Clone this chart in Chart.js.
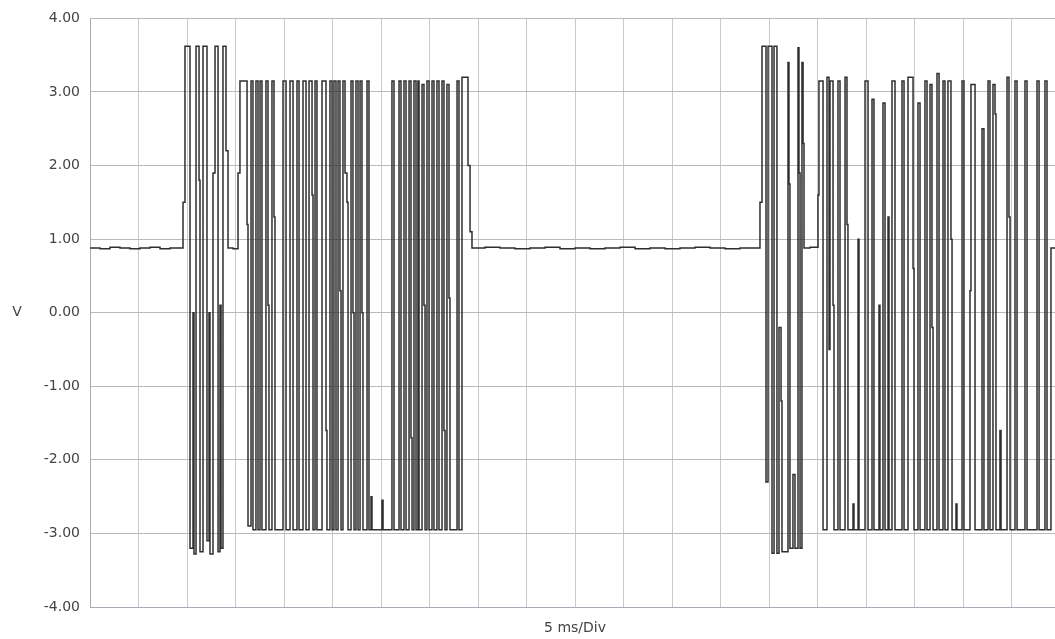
<!DOCTYPE html>
<html>
<head>
<meta charset="utf-8">
<script src="https://cdn.jsdelivr.net/npm/chart.js@4/dist/chart.umd.min.js"></script>
<style>
  html, body { margin: 0; padding: 0; background: #fff; overflow: hidden; }
  #wrap { position: relative; width: 1061px; height: 639px; }
</style>
</head>
<body>
<div id="wrap"><canvas id="c"></canvas></div>
<script>
// ---- DATA (time in ms, voltage in V) ----
const yTitle = 'V';
const xTitle = '5 ms/Div';
const msPerDiv = 5;
const timeSpanMs = 100;
const voltTicks = [-4, -3, -2, -1, 0, 1, 2, 3, 4];

const idle1Time = [0, 1.03, 2.06, 3.09, 4.12, 5.15, 6.19, 7.22, 8.25, 9.28];
const idle1Volt = [0.88, 0.87, 0.89, 0.88, 0.87, 0.88, 0.89, 0.87, 0.88, 0.88];

const burst1Time = [9.59, 9.79, 10.31, 10.62, 10.72, 10.93, 11.24, 11.34, 11.65, 12.06, 12.27, 12.37, 12.68, 12.89, 13.20, 13.40, 13.51, 13.71, 14.02, 14.23, 14.74];
const burst1Volt = [1.5, 3.62, -3.2, 0.0, -3.28, 3.62, 1.8, -3.25, 3.62, -3.1, 0.0, -3.28, 1.9, 3.62, -3.25, 0.1, -3.2, 3.62, 2.2, 0.88, 0.87];

const burst2Time = [15.26, 15.46, 16.19, 16.29, 16.60, 16.80, 17.11, 17.32, 17.53, 17.73, 18.14, 18.35, 18.45, 18.76, 18.97, 19.07, 19.90, 20.21, 20.62, 20.93, 21.34, 21.55, 21.96, 22.27, 22.58, 22.89, 22.99, 23.20, 23.40, 23.92, 24.33, 24.43, 24.74, 24.95, 25.15, 25.36, 25.57, 25.77, 25.88, 26.08, 26.29, 26.49, 26.60, 26.91, 27.11, 27.22, 27.42, 27.63, 27.84, 28.04, 28.14, 28.56, 28.76, 28.97, 29.07, 30.10, 30.21, 31.13, 31.34, 31.86, 32.06, 32.37, 32.58, 32.89, 33.09, 33.20, 33.40, 33.61, 33.81, 33.92, 34.23, 34.43, 34.54, 34.74, 34.95, 35.26, 35.46, 35.77, 35.98, 36.29, 36.49, 36.60, 36.80, 37.01, 37.11, 37.84, 38.04, 38.35, 38.97, 39.18, 39.38];
const burst2Volt = [1.9, 3.15, 1.2, -2.9, 3.15, -2.95, 3.15, -2.95, 3.15, -2.95, 3.15, 0.1, -2.95, 3.15, 1.3, -2.95, 3.15, -2.95, 3.15, -2.95, 3.15, -2.95, 3.15, -2.95, 3.15, 1.6, -2.95, 3.15, -2.95, 3.15, -1.6, -2.95, 3.15, -2.95, 3.15, -2.95, 3.15, 0.3, -2.95, 3.15, 1.9, 1.5, -2.95, 3.15, 0.0, -2.95, 3.15, -2.95, 3.15, 0.0, -2.95, 3.15, -2.95, -2.5, -2.95, -2.55, -2.95, 3.15, -2.95, 3.15, -2.95, 3.15, -2.95, 3.15, -1.7, -2.95, 3.15, -2.95, 3.15, -2.95, 3.1, 0.1, -2.95, 3.15, -2.95, 3.15, -2.95, 3.15, -2.95, 3.15, -1.6, -2.95, 3.1, 0.2, -2.95, 3.15, -2.95, 3.2, 2.0, 1.1, 0.88];

const idle2Time = [40.72, 42.27, 43.81, 45.36, 46.91, 48.45, 50.00, 51.55, 53.09, 54.64, 56.19, 57.73, 59.28, 60.82, 62.37, 63.92, 65.46, 67.01, 68.25];
const idle2Volt = [0.89, 0.88, 0.87, 0.88, 0.89, 0.87, 0.88, 0.87, 0.88, 0.89, 0.87, 0.88, 0.87, 0.88, 0.89, 0.88, 0.87, 0.88, 0.88];

const burst3Time = [69.07, 69.28, 69.69, 69.90, 70.31, 70.52, 70.82, 71.03, 71.24, 71.34, 71.96, 72.06, 72.16, 72.47, 72.68, 72.99, 73.09, 73.20, 73.40, 73.51, 73.61, 74.23];
const burst3Volt = [1.5, 3.62, -2.3, 3.62, -3.27, 3.62, -3.27, -0.2, -1.2, -3.25, 3.4, 1.75, -3.2, -2.2, -3.2, 3.6, 1.9, -3.2, 3.4, 2.3, 0.88, 0.89];

const burst4Time = [75.05, 75.15, 75.57, 75.98, 76.19, 76.29, 76.60, 76.70, 77.11, 77.32, 77.84, 78.04, 78.14, 78.66, 78.76, 79.18, 79.28, 79.90, 80.21, 80.62, 80.82, 81.34, 81.44, 81.75, 81.96, 82.27, 82.37, 82.68, 82.99, 83.71, 83.92, 84.33, 84.85, 84.95, 85.36, 85.57, 86.08, 86.29, 86.60, 86.80, 86.91, 87.32, 87.53, 87.94, 88.14, 88.45, 88.76, 88.87, 89.28, 89.38, 89.90, 90.10, 90.72, 90.82, 91.24, 91.96, 92.16, 92.58, 92.78, 93.09, 93.30, 93.40, 93.81, 93.92, 94.54, 94.74, 94.85, 95.36, 95.57, 96.39, 96.60, 97.63, 97.84, 98.45, 98.66, 99.07, 100];
const burst4Volt = [1.6, 3.15, -2.95, 3.2, -0.5, 3.15, 0.1, -2.95, 3.15, -2.95, 3.2, 1.2, -2.95, -2.6, -2.95, 1.0, -2.95, 3.15, -2.95, 2.9, -2.95, 0.1, -2.95, 2.85, -2.95, 1.3, -2.95, 3.15, -2.95, 3.15, -2.95, 3.2, 0.6, -2.95, 2.85, -2.95, 3.15, -2.95, 3.1, -0.2, -2.95, 3.25, -2.95, 3.15, -2.95, 3.15, 1.0, -2.95, -2.6, -2.95, 3.15, -2.95, 0.3, 3.1, -2.95, 2.5, -2.95, 3.15, -2.95, 3.1, 2.7, -2.95, -1.6, -2.95, 3.2, 1.3, -2.95, 3.15, -2.95, 3.15, -2.95, 3.15, -2.95, 3.15, -2.95, 0.88, 0.88];

// ---- build points ----
const segments = [
  [idle1Time, idle1Volt], [burst1Time, burst1Volt], [burst2Time, burst2Volt],
  [idle2Time, idle2Volt], [burst3Time, burst3Volt], [burst4Time, burst4Volt]
];
const points = [];
segments.forEach(([t, v]) => {
  const n = Math.min(t.length, v.length);
  for (let i = 0; i < n; i++) points.push({ x: t[i], y: v[i] });
});

const FONT = '"DejaVu Sans", "Liberation Sans", Arial, sans-serif';

const axisTitles = {
  id: 'axisTitles',
  afterDraw(chart) {
    const { ctx, chartArea, scales } = chart;
    ctx.save();
    ctx.font = '14px ' + FONT;
    ctx.fillStyle = '#444';
    ctx.textAlign = 'center';
    ctx.textBaseline = 'middle';
    ctx.fillText(yTitle, 17, scales.y.getPixelForValue(0));
    ctx.fillText(xTitle, (chartArea.left + chartArea.right) / 2, chartArea.bottom + 21);
    ctx.restore();
  }
};

new Chart(document.getElementById('c'), {
  type: 'line',
  data: {
    datasets: [{
      data: points,
      stepped: true,
      borderColor: '#2e2e2e',
      borderWidth: 1.5,
      pointRadius: 0,
      fill: false,
      tension: 0
    }]
  },
  options: {
    responsive: true,
    maintainAspectRatio: false,
    animation: false,
    events: [],
    layout: { padding: { top: 16, right: 1, bottom: 32, left: 0 } },
    plugins: { legend: { display: false }, tooltip: { enabled: false } },
    scales: {
      x: {
        type: 'linear',
        min: 0,
        max: timeSpanMs,
        ticks: { display: false, stepSize: msPerDiv },
        grid: { color: '#c9c9d0', drawTicks: false, lineWidth: 1 },
        border: { display: true, color: '#a9a9b4' },
        afterFit(s) { s.height = 0; }
      },
      y: {
        min: voltTicks[0],
        max: voltTicks[voltTicks.length - 1],
        afterBuildTicks(s) { s.ticks = voltTicks.map(v => ({ value: v })); },
        ticks: {
          padding: 10,
          color: '#444',
          font: { family: FONT, size: 14 },
          callback: v => Number(v).toFixed(2)
        },
        grid: { color: '#b9b9c2', drawTicks: false, lineWidth: 1 },
        border: { display: true, color: '#a9a9b4' },
        afterFit(s) { s.width = 90; }
      }
    }
  },
  plugins: [axisTitles]
});
</script>
</body>
</html>
